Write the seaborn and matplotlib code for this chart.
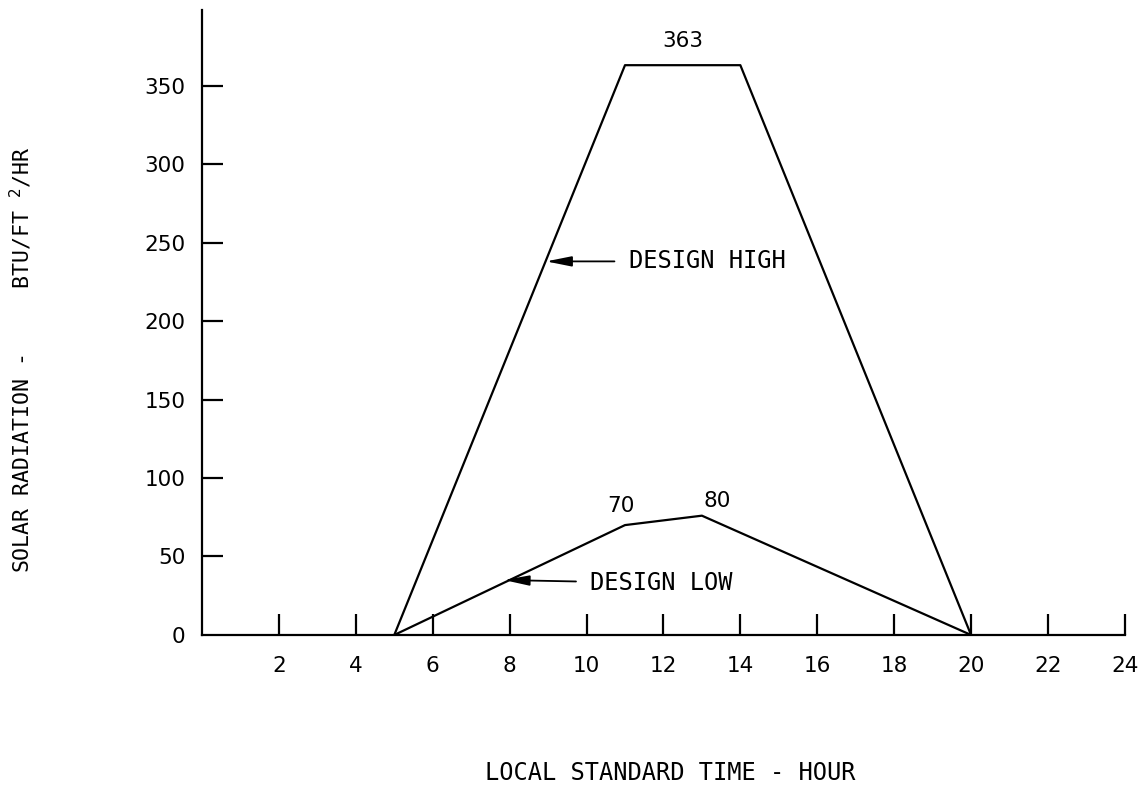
import matplotlib
matplotlib.use("Agg")
import matplotlib.pyplot as plt
import seaborn as sns
import pandas as pd

# Data
high_hours = [5, 11, 14, 20]
high_values = [0, 363, 363, 0]
low_hours = [5, 11, 13, 20]
low_values = [0, 70, 76, 0]
x_ticks = [2, 4, 6, 8, 10, 12, 14, 16, 18, 20, 22, 24]
y_ticks = [0, 50, 100, 150, 200, 250, 300, 350]
peak_labels = ["363", "70", "80"]

sns.set_style("white")
plt.rcParams['font.family'] = ['DejaVu Sans Mono', 'DejaVu Sans']
plt.rcParams['text.color'] = 'black'
plt.rcParams['xtick.color'] = 'black'
plt.rcParams['ytick.color'] = 'black'
plt.rcParams['axes.labelcolor'] = 'black'

fig = plt.figure(figsize=(11.42, 7.88), dpi=100)
ax = fig.add_axes([0.1769, 0.1942, 0.985 - 0.1769, 0.987 - 0.1942])

df_high = pd.DataFrame({"hour": high_hours, "val": high_values})
df_low = pd.DataFrame({"hour": low_hours, "val": low_values})
sns.lineplot(data=df_high, x="hour", y="val", ax=ax, color="black", lw=1.6, sort=False)
sns.lineplot(data=df_low, x="hour", y="val", ax=ax, color="black", lw=1.6, sort=False)

ax.set_xlim(0, 24)
ax.set_ylim(0, 398)
for s in ["top", "right"]:
    ax.spines[s].set_visible(False)
for s in ["left", "bottom"]:
    ax.spines[s].set_color("black")
    ax.spines[s].set_linewidth(1.6)

num_font = dict(family="DejaVu Sans", size=15.5)
ax.set_xticks(x_ticks)
ax.set_xticklabels([str(t) for t in x_ticks], fontdict=num_font)
ax.set_yticks(y_ticks)
ax.set_yticklabels([str(t) for t in y_ticks], fontdict=num_font)
ax.tick_params(axis="x", direction="in", length=15, width=1.6, color="black",
               pad=15, bottom=True, labelcolor="black")
ax.tick_params(axis="y", direction="in", length=15, width=1.6, color="black",
               pad=12, left=True, labelcolor="black")
for t in ax.yaxis.get_major_ticks():
    if t.get_loc() == 0:
        t.tick1line.set_visible(False)
ax.set_xlabel("")
ax.set_ylabel("")

# Peak labels
ax.text(12.5, 372, peak_labels[0], ha="center", va="bottom", **num_font)
ax.text(10.9, 76, peak_labels[1], ha="center", va="bottom", **num_font)
ax.text(13.4, 79, peak_labels[2], ha="center", va="bottom", **num_font)

# Arrow annotations
arrow = dict(arrowstyle="-|>,head_length=0.9,head_width=0.18", color="black",
             lw=1.3, shrinkA=8, shrinkB=0)
ax.annotate("DESIGN HIGH", xy=(8.95, 238), xytext=(11.1, 238), ha="left", va="center",
            fontsize=17, arrowprops=arrow)
ax.annotate("DESIGN LOW", xy=(7.85, 35), xytext=(10.1, 33), ha="left", va="center",
            fontsize=17, arrowprops=arrow)

fig.text(670 / 1142, 1 - 773 / 788, "LOCAL STANDARD TIME - HOUR", ha="center", va="center",
         fontsize=17)
fig.text(21 / 1142, 1 - 360 / 788, "SOLAR RADIATION -     BTU/FT $^{2}$/HR", ha="center",
         va="center", rotation=90, fontsize=15.5)

fig.savefig("out.png", dpi=100, facecolor="white")
